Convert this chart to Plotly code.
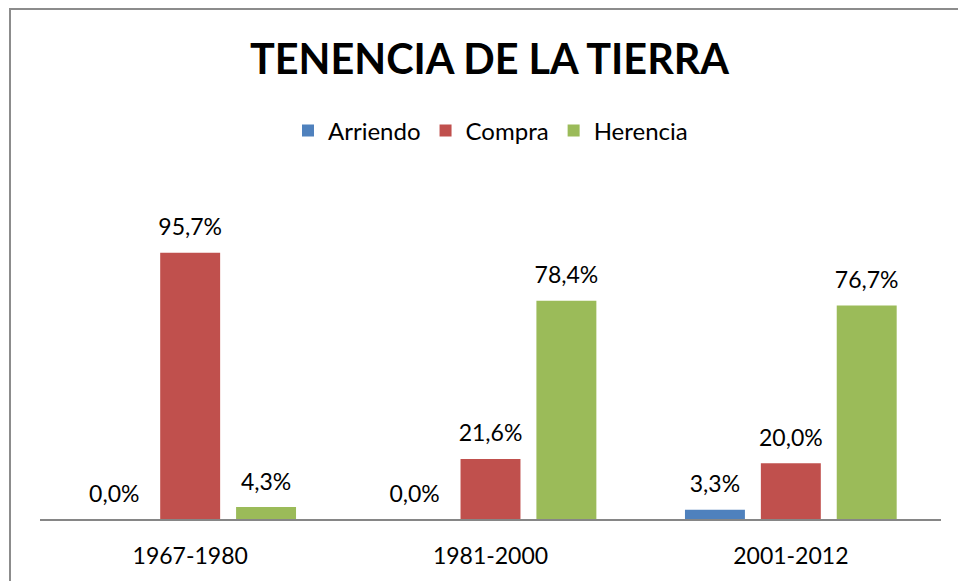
import plotly.graph_objects as go

categories = ["1967-1980", "1981-2000", "2001-2012"]
arriendo = [0.0, 0.0, 3.3]
compra = [95.7, 21.6, 20.0]
herencia = [4.3, 78.4, 76.7]
series_names = ["Arriendo", "Compra", "Herencia"]
title_text = "TENENCIA DE LA TIERRA"

colors = ["#4F81BD", "#C0504D", "#9BBB59"]
FONT = "Lato"
LABEL_GAP = 3.4  # vertical gap (data units) between bar top and its label

fig = go.Figure()
for name, vals, c in zip(series_names, [arriendo, compra, herencia], colors):
    fig.add_trace(go.Bar(
        name=name, x=categories, y=vals, offsetgroup=name,
        marker=dict(color=c, line=dict(width=0)),
        hoverinfo="skip",
    ))
    # invisible carrier bar for the data label, placed on top of the bar
    fig.add_trace(go.Bar(
        name=name, x=categories, y=[LABEL_GAP] * len(vals), base=vals,
        offsetgroup=name, showlegend=False,
        marker=dict(color="rgba(0,0,0,0)", line=dict(width=0)),
        customdata=vals,
        texttemplate="%{customdata:.1f}%",
        textposition="outside",
        textfont=dict(family=FONT, size=23, color="#000000"),
        constraintext="none",
        cliponaxis=False,
        hoverinfo="skip",
    ))

W, H = 958, 581
L, R, T, B = 40, 17, 185, 62
pw, ph = W - L - R, H - T - B

fig.update_layout(
    width=W, height=H,
    margin=dict(l=L, r=R, t=T, b=B, pad=0, autoexpand=False),
    paper_bgcolor="white", plot_bgcolor="white",
    separators=",.",
    barmode="group", bargap=0.242, bargroupgap=0.21,
    font=dict(family=FONT, size=23, color="#000000"),
    title=dict(text="<b>" + title_text + "</b>", x=0.511, xanchor="center",
               y=1 - 60 / H, yanchor="middle", yref="container",
               font=dict(family=FONT, size=41.4, color="#000000")),
    legend=dict(orientation="h", x=0.5, xanchor="center", y=1 - 131 / H, yanchor="middle",
                yref="container", font=dict(family=FONT, size=24), itemwidth=30,
                bgcolor="rgba(0,0,0,0)", traceorder="normal"),
    xaxis=dict(showline=True, linecolor="#868686", linewidth=2, ticks="",
               showgrid=False, tickfont=dict(family=FONT, size=23), ticklabelstandoff=15,
               automargin=False, fixedrange=True),
    yaxis=dict(range=[0, 120], visible=False, showgrid=False, automargin=False, fixedrange=True),
    shapes=[dict(type="rect", xref="paper", yref="paper",
                 x0=(10 - L) / pw, x1=(W + 20 - L) / pw,
                 y0=-(H + 20 - T - ph) / ph, y1=(T - 9) / ph + 1,
                 line=dict(color="#8C8C8C", width=2), fillcolor="rgba(0,0,0,0)", layer="below")],
)

fig.write_html("out.html", config={"displayModeBar": False},
               post_script="document.body.style.margin='0';")
